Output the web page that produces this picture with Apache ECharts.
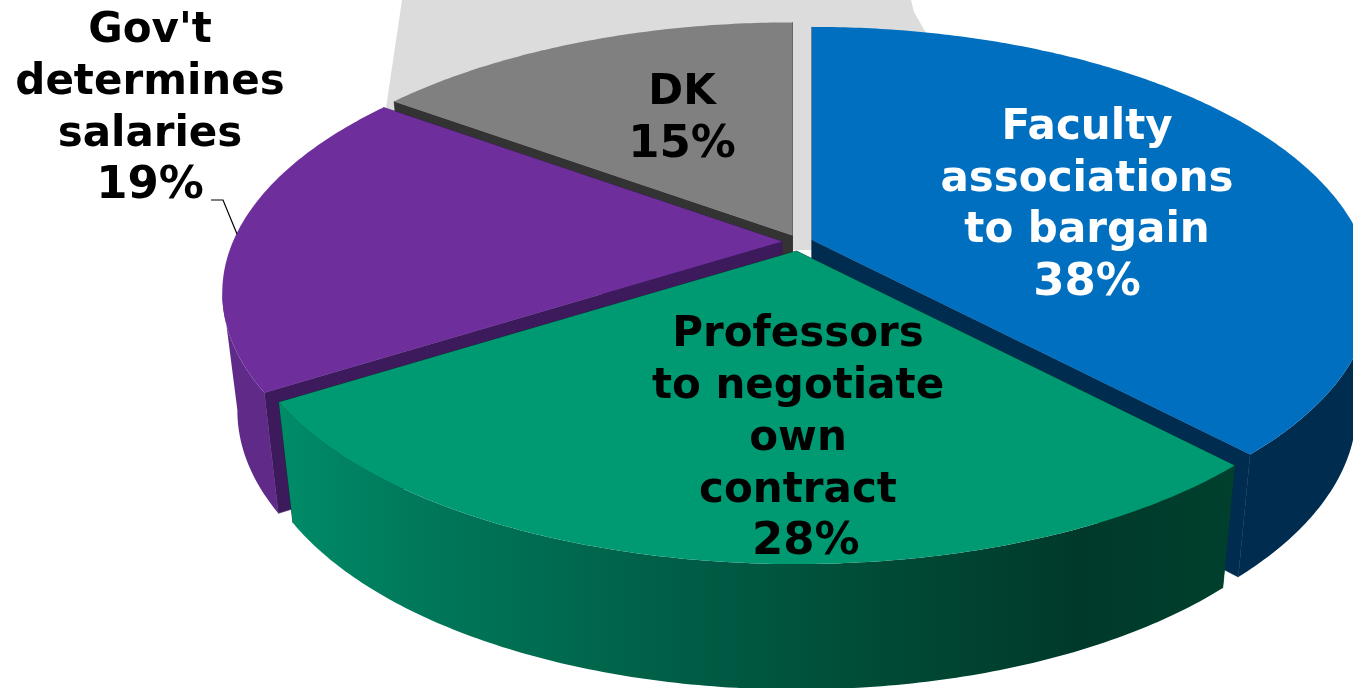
<!DOCTYPE html>
<html><head><meta charset="utf-8">
<style>html,body{margin:0;padding:0;background:#fff;overflow:hidden}#c{width:1353px;height:688px}</style>
<script src="https://cdn.jsdelivr.net/npm/echarts@6/dist/echarts.min.js"></script>
</head><body><div id="c"></div>
<script>
const categories = ['Faculty\nassociations\nto bargain', 'Professors\nto negotiate\nown\ncontract', "Gov't\ndetermines\nsalaries", 'DK'];
const values = [38, 28, 19, 15];
const percentPrefix = ['', '\u00a0', '', ''];

// Look of each slice, same order as categories
const topColors = ['#006fc0', '#009a72', '#6e2e9c', '#808080'];
const sideColors = ['#002c50', '#003a2a', '#3c1a5c', '#333333'];
const textColors = ['#ffffff', '#000000', '#000000', '#000000'];
const apex = [[812, 240], [796.5, 251], [782, 241.5], [792.5, 235.5]];
const labelAt = [[1087, 205.5], [798, 439], [150, 109], [682, 119]];
const paintOrder = [2, 4, 3, 1];

// Projection of the tilted disc
const RX = 549, RY = 253.6, PERSP_X = 0.195, PERSP_Y = 0.19, LOWER_X = 0.973, DEPTH = 116, LOWER_Y = 0.03;
function project(a, deg) {
  const t = deg * Math.PI / 180, Y = Math.cos(t);
  return [a[0] + RX * Math.sin(t) / (1 + PERSP_X * Y), a[1] - RY * Y / (1 + PERSP_Y * Y)];
}
function lower(a, p) {
  return [a[0] + (p[0] - a[0]) * LOWER_X, p[1] + DEPTH + LOWER_Y * (p[1] - a[1])];
}
function arc(a, d0, d1) {
  const n = Math.max(8, Math.ceil(Math.abs(d1 - d0) * 1.5)), out = [];
  for (let i = 0; i <= n; i++) out.push(project(a, d0 + (d1 - d0) * i / n));
  return out;
}
const total = values.reduce((s, v) => s + v, 0);

// One path holding every wall quad, so neighbouring quads leave no seams
echarts.graphic.registerShape('wallQuads', echarts.graphic.extendShape({
  shape: { quads: [] },
  buildPath(ctx, shape) {
    shape.quads.forEach(q => {
      ctx.moveTo(q[0][0], q[0][1]);
      ctx.lineTo(q[1][0], q[1][1]);
      ctx.lineTo(q[2][0], q[2][1]);
      ctx.lineTo(q[3][0], q[3][1]);
      ctx.closePath();
    });
  }
}));

function renderItem(params, api) {
  const i = params.dataIndex;
  let before = 0;
  for (let k = 0; k < i; k++) before += values[k];
  const d0 = before / total * 360, d1 = (before + api.value(1)) / total * 360;
  const a = apex[i], z = paintOrder[i] * 10;
  const top = arc(a, d0, d1);
  const bot = top.map(p => lower(a, p));
  const aLow = lower(a, a);
  const children = [];
  // radial walls
  [[top[0], bot[0]], [top[top.length - 1], bot[bot.length - 1]]].forEach(w => {
    children.push({ type: 'polygon', z2: z, shape: { points: [a, w[0], w[1], aLow] },
      style: { fill: sideColors[i], stroke: sideColors[i], lineWidth: 0.6 }, silent: true });
  });
  // outer wall: only the arc steps that face the viewer
  let wallFill = sideColors[i];
  if (i === 1) {
    wallFill = new echarts.graphic.LinearGradient(280, 0, 1232, 0, [
      { offset: 0, color: '#008c68' }, { offset: 0.14, color: '#00795a' },
      { offset: 0.3, color: '#00694e' }, { offset: 0.46, color: '#005a43' },
      { offset: 0.64, color: '#004a35' }, { offset: 0.84, color: '#00392a' },
      { offset: 1, color: '#00402d' }], true);
  } else if (i === 2) {
    wallFill = '#5f2a88';
  }
  const quads = [];
  for (let k = 0; k + 1 < top.length; k++) {
    if (top[k + 1][0] < top[k][0]) quads.push([top[k], top[k + 1], bot[k + 1], bot[k]]);
  }
  if (quads.length) {
    children.push({ type: 'wallQuads', z2: z + 1, shape: { quads }, style: { fill: wallFill }, silent: true });
  }
  // top face
  children.push({ type: 'polygon', z2: z + 2, shape: { points: [a].concat(top) },
    style: { fill: topColors[i] }, silent: true });
  // label
  const lines = categories[i].split('\n').map(s => '{t|' + s + '}');
  lines.push('{p|' + percentPrefix[i] + api.value(1) + '%}');
  children.push({ type: 'text', z2: 100, silent: true, style: {
    text: lines.join('\n'),
    x: labelAt[i][0], y: labelAt[i][1], align: 'center', verticalAlign: 'middle',
    rich: {
      t: { fill: textColors[i], font: 'bold 42px "DejaVu Sans"', lineHeight: 51.8, align: 'center' },
      p: { fill: textColors[i], font: 'bold 45px "DejaVu Sans"', lineHeight: 51.8, align: 'center' }
    } } });
  return { type: 'group', children };
}

const chart = echarts.init(document.getElementById('c'), null, { renderer: 'canvas' });
chart.setOption({
  animation: false,
  backgroundColor: '#ffffff',
  graphic: [
    { type: 'polygon', z: 0, silent: true,
      shape: { points: [[402, 0], [911, 0], [914, 12], [926, 33], [830, 250], [786, 250], [386, 108]] },
      style: { fill: '#dcdcdc' } },
    { type: 'polyline', z: 10, silent: true,
      shape: { points: [[211, 200], [223, 200], [237, 234]] },
      style: { stroke: '#000', lineWidth: 1.2, fill: null } }
  ],
  series: [{
    type: 'custom', coordinateSystem: 'none', z: 2, renderItem, clip: false,
    data: categories.map((c, i) => [c, values[i]])
  }]
});
</script></body></html>
